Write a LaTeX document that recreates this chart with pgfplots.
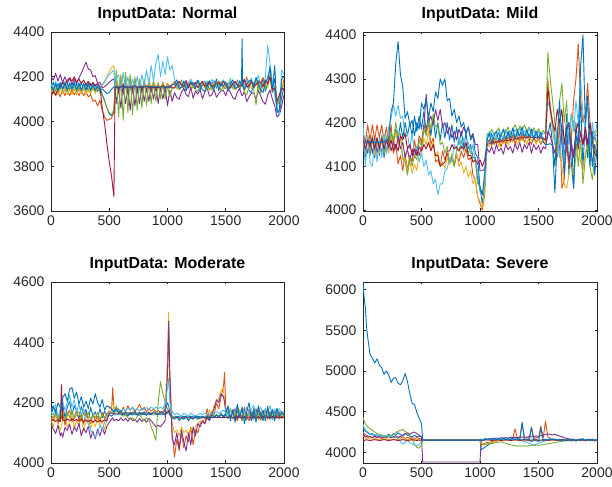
\documentclass[border=0pt]{standalone}
\usepackage{pgfplots}
\usepackage{pgfplotstable}
\pgfplotsset{compat=1.18}
\usepackage{fontspec}
\setmainfont{Liberation Sans}
\definecolor{mblue}{RGB}{0,114,189}
\definecolor{morange}{RGB}{217,83,25}
\definecolor{myellow}{RGB}{237,177,32}
\definecolor{mpurple}{RGB}{126,47,142}
\definecolor{mgreen}{RGB}{119,172,48}
\definecolor{mlblue}{RGB}{77,190,238}
\definecolor{mred}{RGB}{162,20,47}
\definecolor{axgray}{RGB}{38,38,38}

\pgfplotstableread{
x a b c d e f g h
0 4150 4120 4140 4200 4150 4170 4110 4160
20 4175 4140 4125 4185 4130 4145 4135 4140
40 4135 4115 4150 4215 4165 4180 4120 4170
60 4170 4135 4120 4180 4135 4140 4145 4135
80 4140 4110 4145 4210 4170 4175 4155 4175
100 4180 4140 4125 4175 4140 4150 4175 4145
120 4135 4115 4150 4200 4165 4180 4165 4170
140 4170 4145 4120 4170 4135 4145 4185 4140
160 4140 4115 4145 4195 4165 4175 4195 4170
180 4175 4140 4120 4165 4140 4150 4180 4145
200 4140 4120 4150 4190 4165 4180 4200 4175
220 4170 4140 4120 4170 4135 4145 4175 4140
240 4135 4115 4145 4195 4160 4175 4190 4170
260 4175 4140 4125 4215 4135 4140 4170 4140
280 4140 4115 4150 4240 4165 4170 4185 4170
300 4170 4135 4120 4265 4140 4145 4165 4140
320 4135 4110 4145 4235 4160 4175 4180 4170
340 4170 4120 4125 4230 4135 4145 4160 4140
360 4140 4090 4150 4200 4160 4170 4175 4165
380 4165 4095 4125 4205 4135 4145 4160 4140
400 4135 4070 4150 4170 4155 4170 4170 4160
420 4150 4095 4140 4175 4130 4150 4155 4140
440 4120 4050 4160 4150 4115 4165 4060 4145
460 4095 4020 4175 4155 4090 4180 3990 4135
480 4060 4005 4200 4165 4060 4195 3900 4125
500 4035 4010 4225 4175 4040 4210 3820 4130
520 4025 4015 4240 4185 4030 4220 3755 4145
540 4035 4045 4250 4190 4055 4230 3665 4155
550 4150 4150 4160 4160 4150 4160 4150 4155
560 4160 4180 4200 4080 4230 4190 4155 4155
580 4130 4130 4150 4150 4020 4210 4150 4155
600 4170 4190 4210 4060 4200 4140 4155 4155
620 4140 4120 4140 4170 4005 4220 4160 4155
640 4165 4200 4190 4080 4220 4150 4150 4155
660 4125 4140 4130 4150 4040 4200 4155 4155
680 4160 4180 4200 4050 4210 4140 4150 4155
700 4140 4130 4150 4160 4030 4190 4155 4155
720 4170 4190 4180 4070 4200 4150 4160 4155
740 4135 4140 4140 4150 4050 4200 4150 4155
760 4160 4170 4190 4080 4190 4140 4155 4155
780 4145 4130 4150 4160 4060 4210 4150 4155
800 4165 4180 4170 4090 4190 4160 4155 4155
820 4140 4140 4140 4150 4070 4230 4160 4155
840 4160 4170 4180 4090 4180 4170 4150 4155
860 4150 4130 4150 4160 4080 4250 4155 4155
880 4165 4180 4170 4100 4180 4180 4150 4155
900 4140 4140 4140 4160 4090 4260 4155 4155
920 4160 4170 4160 4080 4175 4300 4150 4155
940 4150 4140 4150 4150 4100 4200 4155 4155
960 4165 4175 4170 4100 4170 4270 4160 4155
980 4145 4145 4150 4150 4100 4210 4150 4155
1000 4160 4170 4165 4070 4160 4290 4155 4155
1020 4150 4150 4150 4140 4110 4230 4160 4150
1040 4165 4165 4170 4090 4150 4250 4150 4165
1060 4172 4179 4171 4129 4150 4193 4150 4165
1080 4152 4162 4144 4107 4169 4154 4169 4186
1100 4180 4155 4163 4099 4142 4178 4178 4148
1120 4163 4185 4178 4132 4155 4168 4162 4153
1140 4145 4151 4152 4147 4164 4183 4157 4179
1160 4138 4172 4155 4120 4166 4152 4183 4143
1180 4166 4163 4173 4111 4148 4174 4152 4160
1200 4178 4176 4149 4155 4173 4190 4171 4172
1220 4156 4149 4160 4103 4158 4161 4164 4174
1240 4148 4168 4168 4136 4141 4165 4175 4150
1260 4185 4183 4170 4123 4135 4184 4151 4184
1280 4142 4157 4154 4142 4160 4157 4168 4164
1300 4169 4160 4176 4101 4171 4170 4180 4142
1320 4158 4178 4162 4130 4151 4179 4158 4134
1340 4174 4154 4148 4151 4144 4181 4161 4167
1360 4140 4165 4142 4113 4178 4163 4176 4182
1380 4164 4173 4165 4118 4139 4188 4155 4155
1400 4182 4175 4174 4144 4163 4173 4165 4146
1420 4150 4159 4157 4108 4153 4156 4172 4190
1440 4154 4181 4150 4125 4168 4150 4173 4138
1460 4176 4167 4180 4137 4137 4175 4159 4171
1480 4146 4153 4146 4139 4159 4186 4179 4158
1500 4160 4147 4167 4115 4175 4166 4167 4177
1520 4170 4170 4158 4149 4146 4159 4154 4136
1540 4172 4179 4171 4129 4150 4193 4150 4165
1560 4152 4162 4144 4107 4169 4154 4169 4186
1580 4180 4155 4163 4099 4142 4178 4178 4148
1600 4163 4185 4178 4132 4155 4168 4162 4153
1620 4145 4151 4152 4147 4164 4183 4157 4179
1635 4160 4165 4160 4120 4160 4170 4165 4160
1640 4370 4168 4162 4115 4158 4172 4166 4165
1645 4160 4165 4160 4118 4160 4170 4165 4162
1660 4188 4156 4136 4134 4129 4150 4187 4143
1680 4164 4200 4165 4089 4119 4188 4155 4165
1700 4139 4148 4186 4110 4158 4172 4159 4181
1720 4129 4181 4148 4125 4175 4195 4181 4184
1740 4168 4168 4153 4128 4144 4147 4151 4152
1760 4185 4187 4179 4098 4075 4181 4165 4197
1780 4154 4146 4143 4140 4185 4206 4175 4170
1800 4143 4175 4160 4114 4125 4161 4177 4141
1820 4195 4196 4172 4088 4163 4167 4157 4130
1840 4135 4158 4174 4077 4147 4197 4185 4175
1860 4173 4163 4150 4119 4170 4340 4168 4194
1880 4250 4210 4210 4140 4200 4260 4200 4240
1900 4130 4150 4140 4100 4130 4180 4140 4150
1920 4250 4160 4160 4070 4140 4120 4150 4190
1940 4060 4090 4090 4020 4070 4050 4090 4040
1960 4030 4080 4110 4030 4110 4030 4120 4050
1980 4110 4140 4150 4070 4150 4230 4150 4190
2000 4150 4190 4170 4120 4160 4210 4140 4200
}\tblNormal

\pgfplotstableread{
x a b c d e f g h
0 4150 4180 4150 4140 4160 4200 4160 4155
20 4115 4155 4130 4160 4130 4100 4140 4155
40 4170 4195 4170 4130 4170 4170 4160 4155
60 4125 4160 4135 4160 4130 4110 4145 4156
80 4170 4195 4160 4130 4170 4100 4165 4154
100 4120 4160 4125 4165 4135 4160 4140 4155
120 4165 4195 4165 4130 4165 4110 4165 4156
140 4125 4165 4130 4160 4135 4165 4140 4154
160 4170 4195 4165 4130 4170 4120 4165 4155
180 4120 4155 4130 4165 4130 4175 4140 4156
200 4165 4190 4165 4130 4170 4130 4160 4155
220 4140 4150 4130 4165 4140 4190 4145 4165
240 4175 4195 4170 4135 4180 4210 4160 4225
260 4150 4130 4140 4155 4160 4240 4135 4245
280 4185 4150 4180 4140 4200 4215 4150 4335
300 4160 4105 4150 4165 4170 4240 4135 4385
320 4200 4125 4165 4140 4175 4210 4170 4310
340 4165 4090 4115 4155 4120 4215 4160 4280
360 4200 4130 4120 4120 4110 4165 4175 4210
380 4170 4090 4090 4140 4080 4175 4140 4225
400 4200 4125 4110 4110 4120 4140 4150 4195
420 4170 4110 4085 4140 4100 4175 4125 4205
440 4215 4160 4105 4120 4125 4130 4140 4170
460 4180 4130 4090 4145 4115 4145 4125 4200
480 4215 4170 4130 4125 4160 4110 4145 4185
500 4185 4155 4125 4145 4145 4130 4135 4245
520 4225 4195 4165 4190 4185 4100 4150 4230
540 4180 4175 4150 4265 4170 4115 4140 4255
560 4220 4200 4180 4200 4205 4080 4155 4210
580 4170 4150 4140 4215 4185 4090 4135 4245
600 4210 4165 4155 4195 4220 4060 4150 4225
620 4165 4110 4120 4230 4190 4070 4125 4270
640 4200 4115 4135 4205 4195 4035 4125 4255
660 4160 4100 4100 4230 4150 4060 4100 4300
680 4200 4135 4110 4190 4155 4060 4105 4285
700 4165 4115 4095 4200 4130 4090 4110 4300
720 4200 4130 4120 4175 4145 4095 4135 4250
740 4160 4105 4105 4190 4110 4120 4135 4255
760 4195 4120 4130 4165 4125 4110 4150 4215
780 4155 4100 4105 4180 4100 4150 4140 4230
800 4190 4125 4130 4160 4140 4140 4145 4200
820 4150 4110 4100 4185 4135 4165 4135 4215
840 4180 4135 4110 4170 4160 4140 4145 4190
860 4145 4120 4085 4190 4135 4165 4140 4200
880 4175 4140 4100 4175 4150 4140 4155 4175
900 4140 4115 4075 4190 4130 4155 4125 4190
920 4150 4120 4090 4165 4145 4130 4125 4160
940 4120 4080 4060 4175 4110 4150 4110 4170
960 4120 4070 4070 4150 4110 4110 4115 4130
980 4070 4030 4030 4150 4060 4090 4105 4120
1000 4050 4015 4020 4090 4055 4040 4115 4050
1020 4015 4000 4005 4090 4035 4040 4100 4035
1040 4055 4035 4045 4095 4065 4055 4115 4085
1060 4160 4150 4150 4140 4175 4165 4150 4160
1080 4158 4160 4145 4132 4170 4180 4152 4175
1100 4175 4148 4162 4145 4185 4165 4156 4152
1120 4150 4165 4150 4128 4172 4178 4153 4170
1140 4168 4152 4168 4150 4180 4160 4157 4180
1160 4178 4160 4145 4135 4188 4182 4155 4158
1180 4155 4145 4160 4142 4168 4170 4159 4172
1200 4170 4165 4152 4128 4185 4165 4157 4185
1220 4160 4150 4170 4150 4175 4185 4160 4160
1240 4180 4168 4148 4138 4190 4168 4158 4178
1260 4158 4155 4165 4145 4172 4180 4162 4165
1280 4175 4170 4155 4130 4185 4172 4160 4188
1300 4165 4152 4172 4152 4195 4185 4164 4162
1320 4185 4168 4150 4138 4178 4170 4162 4180
1340 4160 4158 4168 4155 4192 4188 4166 4170
1360 4178 4172 4158 4132 4182 4175 4164 4190
1380 4168 4155 4172 4150 4195 4182 4167 4165
1400 4185 4170 4150 4140 4180 4170 4165 4182
1420 4158 4160 4168 4155 4190 4188 4168 4168
1440 4176 4150 4158 4130 4178 4172 4166 4185
1460 4165 4168 4166 4150 4188 4182 4167 4160
1480 4178 4155 4150 4138 4175 4168 4165 4180
1500 4160 4165 4165 4148 4186 4180 4166 4165
1520 4172 4150 4155 4130 4172 4170 4164 4178
1540 4158 4162 4160 4145 4182 4176 4165 4155
1560 4150 4160 4150 4140 4175 4175 4160 4150
1580 4170 4300 4290 4180 4360 4250 4280 4150
1600 4200 4240 4230 4170 4300 4230 4230 4152
1620 4150 4200 4180 4150 4250 4200 4200 4148
1640 4100 4160 4150 4130 4200 4150 4180 4040
1660 4180 4120 4130 4160 4150 4190 4230 4160
1680 4120 4200 4160 4140 4250 4120 4200 4250
1700 4200 4050 4100 4180 4290 4180 4230 4150
1720 4100 4070 4060 4120 4200 4100 4150 4080
1740 4220 4150 4050 4160 4250 4200 4190 4180
1760 4080 4100 4080 4110 4150 4150 4200 4200
1780 4180 4160 4110 4150 4220 4220 4140 4110
1800 4050 4250 4080 4130 4200 4180 4120 4050
1820 4200 4300 4120 4170 4160 4250 4180 4170
1840 4140 4380 4150 4140 4100 4200 4200 4150
1860 4250 4250 4110 4180 4160 4300 4170 4330
1880 4100 4200 4090 4150 4060 4220 4150 4400
1900 4200 4220 4130 4170 4120 4180 4190 4200
1920 4120 4290 4150 4140 4150 4250 4150 4260
1940 4180 4200 4170 4180 4100 4150 4200 4100
1960 4100 4150 4140 4160 4070 4200 4160 4180
1980 4150 4170 4180 4170 4120 4160 4130 4080
2000 4130 4150 4180 4170 4160 4200 4120 4140
}\tblMild

\pgfplotstableread{
x a b c d e f g h
0 4160 4150 4145 4130 4160 4170 4140 4175
20 4185 4142 4120 4112 4150 4158 4143 4190
40 4175 4165 4160 4098 4167 4195 4138 4165
60 4140 4130 4128 4125 4145 4150 4142 4200
80 4165 4158 4110 4090 4162 4180 4137 4185
90 4172 4148 4125 4100 4155 4170 4260 4178
100 4195 4170 4140 4085 4170 4205 4143 4215
120 4150 4125 4152 4118 4140 4175 4139 4230
140 4185 4160 4118 4108 4168 4200 4146 4205
160 4205 4175 4135 4128 4150 4225 4141 4245
180 4160 4135 4158 4095 4175 4185 4147 4250
200 4190 4150 4115 4120 4148 4210 4140 4215
220 4172 4178 4140 4105 4160 4170 4144 4235
240 4145 4140 4125 4132 4170 4195 4138 4195
260 4188 4160 4150 4090 4145 4160 4145 4220
280 4160 4128 4108 4115 4165 4180 4136 4185
300 4178 4168 4135 4100 4152 4145 4142 4205
320 4140 4145 4150 4122 4168 4130 4137 4180
340 4185 4130 4115 4082 4145 4110 4143 4215
360 4155 4162 4140 4105 4160 4095 4135 4195
380 4170 4140 4120 4080 4150 4085 4141 4230
400 4145 4155 4150 4112 4168 4100 4136 4200
420 4180 4135 4125 4090 4145 4125 4142 4185
440 4150 4168 4140 4118 4160 4110 4137 4210
460 4172 4145 4110 4095 4150 4135 4143 4175
480 4155 4160 4145 4122 4165 4150 4139 4190
500 4160 4165 4180 4135 4170 4170 4165 4185
520 4155 4175 4190 4145 4165 4165 4165 4180
530 4160 4250 4200 4150 4170 4170 4165 4175
540 4160 4180 4185 4140 4160 4175 4165 4170
560 4160 4170 4175 4145 4190 4170 4165 4180
580 4160 4180 4170 4140 4170 4175 4165 4165
600 4160 4165 4165 4150 4160 4170 4165 4175
620 4161 4185 4170 4140 4155 4180 4165 4160
640 4160 4170 4160 4148 4160 4172 4165 4170
660 4160 4190 4168 4138 4150 4182 4166 4155
680 4161 4175 4162 4150 4145 4175 4165 4168
700 4160 4185 4170 4140 4150 4185 4166 4160
720 4160 4170 4165 4145 4140 4176 4165 4172
740 4161 4180 4160 4135 4155 4180 4166 4158
760 4160 4195 4170 4148 4160 4172 4165 4168
780 4160 4175 4162 4138 4150 4182 4166 4160
800 4161 4185 4168 4145 4140 4176 4165 4170
820 4160 4170 4160 4135 4150 4184 4166 4158
840 4160 4180 4170 4148 4145 4178 4165 4168
860 4161 4172 4165 4140 4120 4185 4165 4160
880 4160 4178 4160 4130 4100 4180 4166 4170
900 4160 4170 4165 4120 4075 4185 4165 4165
920 4161 4175 4160 4125 4200 4180 4165 4160
940 4160 4168 4165 4120 4270 4185 4166 4170
960 4160 4172 4170 4130 4230 4180 4165 4165
980 4161 4180 4190 4140 4200 4200 4165 4175
1000 4165 4300 4350 4300 4180 4250 4170 4200
1010 4170 4450 4500 4470 4170 4280 4175 4190
1020 4160 4250 4300 4300 4160 4200 4160 4165
1040 4155 4100 4130 4080 4150 4170 4150 4150
1060 4155 4020 4100 4060 4155 4160 4150 4145
1080 4154 4080 4110 4100 4150 4165 4150 4155
1100 4155 4040 4090 4050 4148 4160 4150 4140
1120 4155 4100 4120 4110 4150 4155 4150 4150
1140 4154 4050 4100 4070 4148 4165 4150 4145
1160 4155 4090 4110 4040 4150 4160 4150 4155
1180 4155 4070 4095 4100 4148 4155 4150 4140
1200 4154 4120 4115 4060 4150 4165 4150 4150
1220 4155 4060 4100 4120 4148 4160 4150 4145
1240 4155 4110 4120 4090 4150 4155 4150 4155
1260 4154 4100 4130 4130 4150 4160 4150 4145
1280 4155 4130 4140 4120 4148 4165 4150 4150
1300 4155 4140 4135 4140 4150 4160 4150 4155
1320 4150 4130 4150 4130 4152 4165 4152 4150
1340 4160 4180 4160 4150 4155 4160 4150 4155
1360 4150 4150 4175 4140 4150 4165 4152 4145
1380 4165 4170 4160 4160 4160 4160 4150 4160
1400 4150 4160 4190 4180 4155 4165 4152 4150
1420 4160 4200 4200 4210 4160 4170 4150 4160
1440 4155 4180 4215 4200 4155 4165 4152 4150
1460 4165 4220 4240 4230 4160 4170 4150 4160
1480 4150 4250 4250 4220 4155 4175 4152 4155
1490 4155 4300 4200 4200 4160 4170 4150 4160
1500 4160 4180 4180 4170 4160 4180 4152 4165
1520 4148 4165 4160 4185 4172 4155 4150 4190
1540 4175 4150 4175 4150 4145 4182 4155 4140
1560 4165 4178 4145 4168 4170 4160 4149 4175
1580 4140 4160 4165 4180 4150 4175 4154 4135
1600 4172 4140 4152 4148 4178 4190 4150 4195
1620 4155 4172 4178 4165 4158 4158 4153 4150
1640 4180 4150 4140 4142 4140 4180 4149 4185
1660 4150 4185 4168 4175 4172 4165 4155 4130
1680 4142 4158 4155 4150 4150 4185 4150 4170
1700 4178 4140 4175 4170 4165 4160 4153 4200
1720 4160 4170 4145 4140 4145 4178 4149 4145
1740 4145 4155 4170 4168 4178 4192 4154 4180
1760 4175 4180 4150 4155 4155 4160 4150 4135
1780 4152 4145 4162 4178 4165 4175 4153 4190
1800 4168 4170 4140 4145 4145 4185 4149 4150
1820 4140 4150 4175 4165 4172 4158 4155 4175
1840 4178 4178 4155 4150 4152 4180 4150 4140
1860 4150 4145 4168 4178 4168 4165 4153 4188
1880 4170 4168 4145 4152 4148 4190 4149 4145
1900 4145 4150 4172 4170 4175 4160 4154 4178
1920 4172 4175 4150 4145 4155 4178 4150 4140
1940 4150 4148 4165 4172 4165 4162 4153 4182
1960 4165 4170 4145 4150 4148 4180 4149 4150
1980 4148 4150 4168 4168 4170 4165 4152 4170
2000 4160 4165 4150 4155 4155 4172 4150 4160
}\tblModerate

\pgfplotstableread{
x a b c d e f g h
0 4300 4250 4200 4200 4430 4350 4150 6080
10 4280 4230 4190 4210 4380 4300 4145 5900
20 4260 4220 4180 4190 4350 4280 4150 5780
30 4250 4210 4170 4200 4330 4260 4155 5550
40 4240 4200 4175 4185 4310 4250 4150 5420
60 4220 4190 4165 4195 4290 4230 4145 5200
80 4230 4180 4160 4180 4270 4210 4150 5160
100 4200 4195 4170 4200 4250 4220 4155 5100
120 4215 4175 4155 4185 4230 4200 4150 5150
140 4195 4190 4165 4200 4220 4210 4145 5070
160 4210 4170 4150 4180 4210 4190 4150 5040
180 4190 4185 4165 4195 4200 4200 4155 4960
200 4205 4175 4155 4185 4190 4210 4150 5000
220 4220 4190 4160 4200 4210 4190 4145 4950
240 4200 4180 4150 4180 4200 4200 4150 4860
260 4230 4195 4165 4190 4220 4180 4155 4910
280 4210 4175 4155 4200 4240 4190 4150 4920
300 4240 4185 4160 4185 4260 4170 4145 4850
320 4220 4175 4150 4195 4270 4130 4150 4830
340 4200 4190 4165 4210 4280 4100 4155 4880
360 4230 4170 4150 4230 4260 4120 4150 4970
380 4210 4185 4160 4240 4230 4150 4145 4870
400 4200 4170 4150 4220 4190 4120 4150 4720
420 4190 4180 4155 4240 4150 4100 4155 4600
440 4210 4170 4150 4250 4100 4090 4150 4590
460 4190 4180 4160 4230 4060 4080 4145 4490
480 4200 4170 4150 4210 4050 4100 4150 4420
500 4190 4160 4155 4190 4090 4140 4150 4350
510 4150 4150 4150 3880 4150 4150 4150 4150
600 4150 4150 4150 3880 4150 4150 4150 4150
700 4150 4150 4150 3880 4150 4150 4150 4150
800 4150 4150 4150 3880 4150 4150 4150 4150
900 4150 4150 4150 3880 4150 4150 4150 4150
1000 4150 4150 4150 3880 4150 4150 4150 4150
1010 4030 4090 4080 4150 4110 4150 4150 4160
1020 4040 4100 4085 4155 4100 4160 4145 4140
1040 4060 4110 4095 4160 4105 4150 4150 4170
1060 4080 4120 4100 4165 4100 4160 4155 4150
1080 4100 4115 4110 4160 4110 4150 4150 4170
1100 4120 4130 4120 4170 4105 4165 4145 4155
1120 4135 4140 4130 4165 4115 4155 4150 4175
1140 4145 4135 4140 4175 4120 4165 4155 4150
1160 4150 4150 4145 4170 4125 4155 4150 4170
1180 4160 4145 4150 4180 4130 4165 4145 4155
1200 4145 4160 4145 4175 4120 4155 4150 4175
1220 4165 4150 4150 4180 4110 4165 4155 4150
1240 4150 4160 4145 4175 4100 4150 4150 4170
1260 4165 4150 4150 4185 4090 4165 4145 4155
1280 4150 4170 4145 4180 4085 4155 4150 4175
1300 4165 4290 4150 4185 4080 4165 4155 4150
1320 4150 4160 4145 4180 4075 4150 4150 4170
1340 4160 4170 4150 4190 4080 4160 4145 4150
1360 4150 4360 4145 4185 4075 4140 4150 4370
1380 4165 4170 4150 4190 4080 4130 4155 4150
1400 4140 4180 4145 4185 4075 4120 4150 4160
1420 4160 4170 4150 4195 4080 4110 4145 4140
1440 4130 4300 4145 4190 4085 4100 4150 4310
1460 4150 4170 4150 4195 4080 4090 4155 4140
1480 4140 4180 4145 4200 4090 4100 4150 4160
1500 4150 4175 4150 4195 4085 4110 4145 4130
1520 4140 4320 4145 4205 4090 4120 4150 4300
1540 4155 4180 4150 4210 4095 4130 4155 4140
1560 4145 4380 4145 4220 4100 4140 4150 4160
1580 4160 4190 4150 4225 4105 4150 4145 4150
1600 4150 4170 4145 4220 4110 4160 4150 4165
1620 4165 4160 4150 4215 4115 4155 4155 4150
1640 4150 4150 4145 4220 4120 4160 4150 4165
1660 4160 4145 4150 4210 4125 4150 4145 4145
1680 4145 4150 4145 4200 4130 4160 4150 4160
1700 4160 4140 4150 4190 4135 4150 4155 4140
1720 4150 4150 4145 4180 4140 4160 4150 4155
1740 4160 4145 4150 4170 4140 4150 4145 4145
1760 4145 4150 4145 4165 4145 4155 4150 4160
1780 4160 4140 4150 4160 4150 4150 4155 4140
1800 4150 4150 4145 4155 4145 4160 4150 4165
1820 4160 4145 4150 4150 4150 4150 4145 4135
1840 4145 4155 4145 4160 4145 4155 4150 4160
1860 4165 4145 4150 4150 4150 4150 4155 4140
1880 4150 4150 4145 4155 4155 4160 4150 4170
1900 4160 4140 4150 4150 4145 4150 4145 4140
1920 4145 4155 4145 4160 4150 4155 4150 4165
1940 4160 4145 4150 4150 4155 4150 4155 4140
1960 4150 4150 4145 4155 4150 4160 4150 4165
1980 4160 4140 4150 4150 4145 4150 4145 4140
2000 4150 4150 4145 4155 4150 4155 4150 4150
}\tblSevere

\newcommand{\plotall}[1]{%
\addplot[mblue] table[x=x,y=a]{#1};
\addplot[morange] table[x=x,y=b]{#1};
\addplot[myellow] table[x=x,y=c]{#1};
\addplot[mpurple] table[x=x,y=d]{#1};
\addplot[mgreen] table[x=x,y=e]{#1};
\addplot[mlblue] table[x=x,y=f]{#1};
\addplot[mred] table[x=x,y=g]{#1};
\addplot[mblue] table[x=x,y=h]{#1};
}

\pgfplotsset{mstyle/.style={
  scale only axis, anchor=south west,
  xmin=0, xmax=2000, xtick={0,500,1000,1500,2000},
  tick align=inside, major tick length=2.5bp,
  axis line style={color=axgray, line width=0.6bp},
  tick style={color=axgray, line width=0.6bp},
  ticklabel style={font=\fontsize{14}{16}\selectfont, color=axgray},
  yticklabel style={xshift=-3bp},
  xticklabel style={yshift=-1bp},
  /pgf/number format/assume math mode=true,
  /pgf/number format/1000 sep={},
  scaled ticks=false,
  title style={font=\bfseries\fontsize{16}{18}\selectfont, at={(0.5,1)}, anchor=base, yshift=8bp, inner sep=0pt},
  every axis plot/.append style={line width=0.9bp, line join=round, mark=none},
}}

\begin{document}
\begin{tikzpicture}
\useasboundingbox (0,0) rectangle (612bp,487bp);
\begin{axis}[mstyle, at={(51bp,276bp)}, width=233bp, height=179bp,
  ymin=3600, ymax=4400, ytick={3600,3800,4000,4200,4400}, title={InputData: Normal}]
\plotall{\tblNormal}
\end{axis}
\begin{axis}[mstyle, at={(363bp,276bp)}, width=234bp, height=179bp,
  ymin=3998, ymax=4407, ytick={4000,4100,4200,4300,4400}, title={InputData: Mild}]
\plotall{\tblMild}
\end{axis}
\begin{axis}[mstyle, at={(51bp,24bp)}, width=233bp, height=181bp,
  ymin=4000, ymax=4600, ytick={4000,4200,4400,4600}, title={InputData: Moderate}]
\plotall{\tblModerate}
\end{axis}
\begin{axis}[mstyle, at={(363bp,24bp)}, width=234bp, height=181bp,
  ymin=3868, ymax=6095, ytick={4000,4500,5000,5500,6000}, title={InputData: Severe}]
\plotall{\tblSevere}
\end{axis}
\end{tikzpicture}
\end{document}
